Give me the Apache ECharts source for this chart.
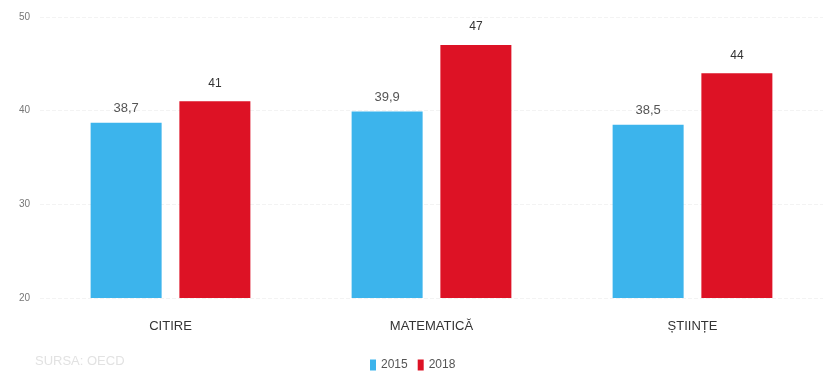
<!DOCTYPE html>
<html><head><meta charset="utf-8">
<script src="https://cdn.jsdelivr.net/npm/echarts@6/dist/echarts.min.js"></script>
<style>html,body{margin:0;padding:0;background:#fff}#c{width:823px;height:378px}</style>
</head><body><div id="c"></div>
<script>
var categories = ['CITIRE', 'MATEMATICĂ', 'ȘTIINȚE'];
var seriesNames = ['2015', '2018'];
var values2015 = [38.7, 39.9, 38.5];
var values2018 = [41, 47, 44];
var yTicks = [20, 30, 40, 50];

var FONT = '"Liberation Sans Narrow", "Liberation Sans", sans-serif';
var chart = echarts.init(document.getElementById('c'));
function fmt(p){ return String(p.value).replace('.', ','); }
chart.setOption({
  animation: false,
  textStyle: { fontFamily: FONT },
  grid: { left: 40, right: 0, top: 17, bottom: 80 },
  xAxis: {
    type: 'category', data: categories,
    axisLine: { show: false }, axisTick: { show: false },
    axisLabel: { color: '#333', fontSize: 13, margin: 22, fontFamily: FONT }
  },
  yAxis: {
    type: 'value', min: yTicks[0], max: yTicks[yTicks.length - 1], interval: 10,
    axisLine: { show: false }, axisTick: { show: false },
    axisLabel: { color: '#777', fontSize: 10, margin: 10, fontFamily: FONT },
    splitLine: { lineStyle: { color: '#f3f3f3', type: 'dashed' } }
  },
  legend: {
    data: seriesNames, bottom: 2, left: 365, icon: 'rect',
    itemWidth: 6, itemHeight: 11, itemGap: 10,
    textStyle: { color: '#555', fontSize: 12, fontFamily: FONT }
  },
  graphic: [{
    type: 'text', left: 35, top: 355,
    style: { text: 'SURSA: OECD', fill: '#e2e2e2', font: '13px ' + FONT }
  }],
  series: [
    { name: seriesNames[0], type: 'bar', data: values2015, barWidth: 71, barGap: '25%',
      itemStyle: { color: '#3cb4ec' },
      label: { show: true, position: 'top', distance: 8, color: '#555', fontSize: 13, formatter: fmt, fontFamily: FONT } },
    { name: seriesNames[1], type: 'bar', data: values2018, barWidth: 71,
      itemStyle: { color: '#dd1225' },
      label: { show: true, position: 'top', distance: 12, color: '#333', fontSize: 12, formatter: fmt, fontFamily: FONT } }
  ]
});
</script></body></html>
